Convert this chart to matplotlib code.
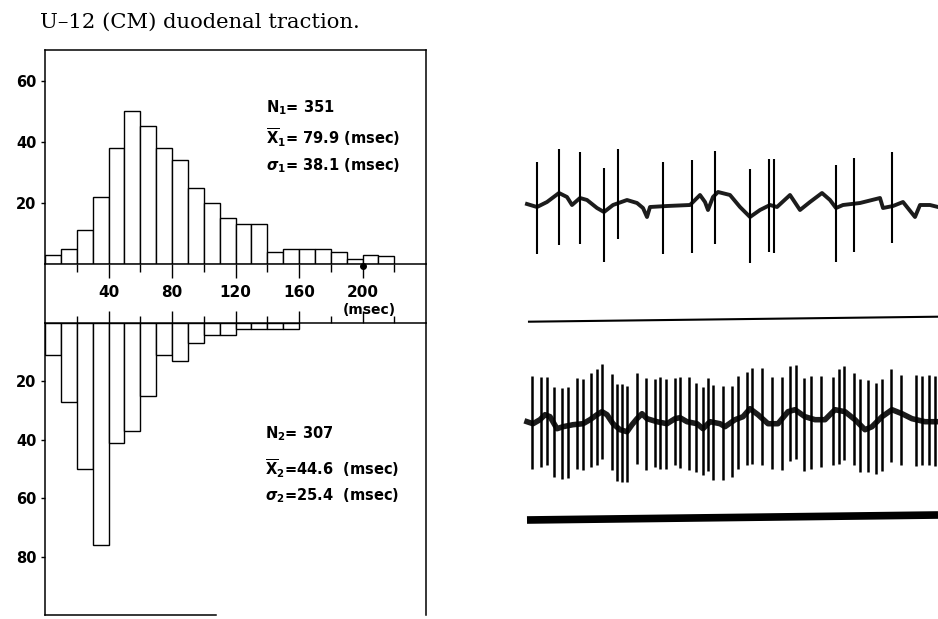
import numpy as np
import matplotlib.pyplot as plt

plt.rcParams['font.family'] = ['DejaVu Sans']
plt.rcParams['font.weight'] = 'bold'
plt.rcParams['mathtext.fontset'] = 'dejavusans'

# spike-interval histograms, 10 msec bins
counts_1 = [3, 5, 11, 22, 38, 50, 45, 38, 34, 25, 20, 15, 13, 13, 4, 5, 5, 5, 4, 1.5, 3, 2.5]
counts_2 = [11, 27, 50, 76, 41, 37, 25, 11, 13, 7, 4, 4, 2, 2, 2, 2]
bin_width = 10
n_1, mean_1, sd_1 = 351, 79.9, 38.1
n_2, mean_2, sd_2 = 307, 44.6, 25.4
major_ticks = [40, 80, 120, 160, 200]
minor_ticks = [20, 60, 100, 140, 180, 220]
marked_time = 200

# recordings: slow wave (time, level) and spikes (time, peak, trough)
wave1_t = [0, 10, 20, 32, 40, 45, 53, 60, 70, 77, 86, 100, 110, 116, 120, 123, 140, 163, 173, 178,
           181, 186, 191, 203, 213, 223, 233, 243, 250, 263, 273, 283, 295, 303, 309, 316, 333, 353,
           356, 366, 376, 388, 393, 403, 411]
wave1_v = [0, -3, 2, 11, 7, -1, 6, 4, -4, -8, -1, 4, 1, -4, -13, -3, -2, -1, 9, 2,
           -6, 7, 12, 9, -3, -13, -6, -1, -3, 9, -6, 2, 11, 4, -4, -1, 1, 6,
           -4, -2, 2, -13, -1, -1, -3]
spikes1_t = [10, 32, 53, 77, 91, 136, 165, 188, 223, 242, 247, 309, 327, 365]
spikes1_hi = [42, 55, 52, 36, 55, 42, 44, 53, 35, 45, 45, 39, 46, 52]
spikes1_lo = [-50, -41, -40, -58, -35, -50, -49, -40, -59, -48, -49, -58, -48, -39]

wave2_t = [0, 6, 13, 18, 23, 30, 36, 46, 56, 63, 70, 75, 80, 86, 93, 100, 105, 110, 115, 120,
           130, 140, 148, 153, 160, 170, 176, 183, 193, 198, 208, 216, 223, 231, 241, 251, 261, 268,
           278, 288, 298, 308, 318, 328, 338, 345, 355, 365, 375, 385, 398, 411]
wave2_v = [0, -2, 2, 7, 5, -7, -5, -3, -2, 2, 7, 10, 7, -2, -8, -10, -3, 3, 8, 3,
           0, -2, 3, 4, 0, -2, -7, 0, -2, -5, 2, 5, 13, 7, -2, -2, 10, 12,
           5, 2, 2, 12, 10, 2, -8, -5, 5, 12, 8, 3, 0, 0]
spikes2_t = [5, 14, 20, 27, 35, 41, 50, 56, 64, 70, 75, 85, 90, 95, 100, 110, 119, 128, 133, 139,
             148, 153, 162, 169, 176, 181, 186, 196, 205, 211, 220, 225, 235, 245, 255, 263, 269, 277,
             284, 294, 306, 312, 317, 327, 333, 341, 349, 355, 364, 374, 389, 395, 402, 408]
spikes2_hi = [46, 45, 45, 35, 34, 35, 44, 43, 49, 53, 58, 48, 38, 38, 36, 49, 44, 43, 45, 43,
              44, 45, 45, 39, 35, 44, 37, 36, 36, 46, 50, 54, 54, 45, 45, 56, 57, 44,
              46, 46, 45, 53, 56, 49, 43, 42, 39, 43, 53, 47, 47, 46, 47, 46]
spikes2_lo = [-47, -45, -43, -55, -57, -56, -47, -48, -45, -43, -37, -48, -59, -60, -60, -42, -48,
              -45, -47, -47, -43, -46, -48, -50, -53, -49, -58, -58, -55, -47, -43, -42, -43, -47,
              -48, -39, -37, -49, -47, -45, -43, -42, -38, -43, -50, -50, -52, -49, -40, -43,
              -44, -43, -43, -44]

W, H = 938, 619
fig = plt.figure(figsize=(W / 100, H / 100), dpi=100)


def box(x0, y0, x1, y1):
    return [x0 / W, 1 - y1 / H, (x1 - x0) / W, (y1 - y0) / H]


bar_kw = dict(width=bin_width, align='edge', facecolor='white', edgecolor='black', linewidth=1.0)

# upper histogram
ax1 = fig.add_axes(box(45, 50, 426, 264))
ax1.bar(np.arange(len(counts_1)) * bin_width, counts_1, **bar_kw)
ax1.set_xlim(0, 240)
ax1.set_ylim(0, 70)
ax1.set_xticks(major_ticks)
ax1.set_xticks(minor_ticks, minor=True)
ax1.set_yticks([20, 40, 60])
ax1.tick_params(axis='x', which='major', direction='out', length=10, width=1, pad=5, labelsize=11)
ax1.tick_params(axis='x', which='minor', direction='out', length=5.5, width=1)
ax1.tick_params(axis='y', direction='out', length=3, width=1, pad=3, labelsize=10.5)
for s in ax1.spines.values():
    s.set_linewidth(1.1)
ax1.plot([marked_time], [-0.6], 'o', ms=4, color='black', clip_on=False, zorder=5)

stats_1 = [rf'$\mathbf{{N}}_\mathbf{{1}}$= {n_1}',
           rf'$\overline{{\mathbf{{X}}}}_\mathbf{{1}}$= {mean_1} (msec)',
           rf'$\boldsymbol{{\sigma}}_\mathbf{{1}}$= {sd_1} (msec)']
for txt, yy in zip(stats_1, [51, 41.3, 32.1]):
    ax1.text(139.5, yy, txt, fontsize=10.5, va='center', ha='left')

# lower histogram, drawn downward
ax2 = fig.add_axes(box(45, 323, 426, 615))
ax2.bar(np.arange(len(counts_2)) * bin_width, counts_2, **bar_kw)
ax2.set_xlim(0, 240)
ax2.set_ylim(100, 0)
ax2.xaxis.tick_top()
ax2.set_xticks(major_ticks)
ax2.set_xticks(minor_ticks, minor=True)
ax2.set_yticks([20, 40, 60, 80])
ax2.tick_params(axis='x', which='major', direction='out', length=8.5, width=1, labeltop=False)
ax2.tick_params(axis='x', which='minor', direction='out', length=5, width=1)
ax2.tick_params(axis='y', direction='out', length=3, width=1, pad=3, labelsize=10.5)
for s in ax2.spines.values():
    s.set_linewidth(1.1)
ax2.spines['bottom'].set_bounds(0, 108)

stats_2 = [rf'$\mathbf{{N}}_\mathbf{{2}}$= {n_2}',
           rf'$\overline{{\mathbf{{X}}}}_\mathbf{{2}}$={mean_2}  (msec)',
           rf'$\boldsymbol{{\sigma}}_\mathbf{{2}}$={sd_2}  (msec)']
for txt, yy in zip(stats_2, [37.9, 49.8, 59.0]):
    ax2.text(138.3, yy, txt, fontsize=10.5, va='center', ha='left')

# band between the two histograms
band = fig.add_axes(box(45, 264, 426, 323))
band.set_xlim(0, 240)
band.set_ylim(0, 1)
band.patch.set_visible(False)
band.spines[['top', 'bottom']].set_visible(False)
for s in band.spines.values():
    s.set_linewidth(1.1)
band.set_xticks([])
band.set_yticks([])
band.text(204.5, 0.22, '(msec)', fontsize=10, ha='center', va='center')

fig.text(40 / W, 1 - 28 / H, 'U–12 (CM) duodenal traction.', family='DejaVu Serif',
         fontweight='normal', fontsize=15.2, va='baseline', ha='left')

# recordings
axr = fig.add_axes(box(500, 130, 938, 540))
axr.set_xlim(-27, 411)
axr.set_ylim(-410, 0)
axr.axis('off')

trace1_y, trace2_y = -74, -291.7
ink = '#1c1c1c'
axr.plot(wave1_t, trace1_y + np.array(wave1_v), color=ink, lw=2.8, solid_joinstyle='round')
axr.vlines(spikes1_t, trace1_y + np.array(spikes1_lo), trace1_y + np.array(spikes1_hi),
           color='black', lw=1.5)
axr.plot([2, 411], [-191.7, -186.7], color='black', lw=1.5)

axr.plot(wave2_t, trace2_y + np.array(wave2_v), color=ink, lw=4.0, solid_joinstyle='round')
axr.vlines(spikes2_t, trace2_y + np.array(spikes2_lo), trace2_y + np.array(spikes2_hi),
           color='black', lw=1.8)
axr.plot([0, 411], [-390, -385], color='black', lw=5.5, solid_capstyle='butt')

fig.savefig('out.png', dpi=100)
